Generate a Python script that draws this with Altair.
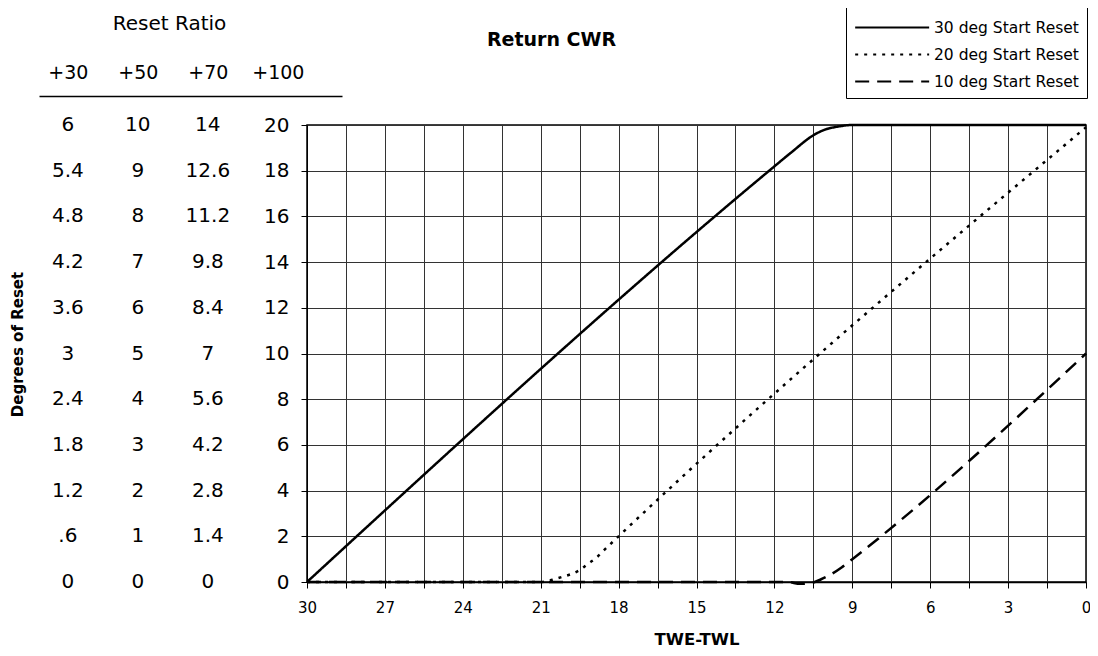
import altair as alt
import pandas as pd

FONT = "DejaVu Sans"

# ---- data ----
series_names = ["30 deg Start Reset", "20 deg Start Reset", "10 deg Start Reset"]
s30_x = [30, 12.2, 11.35, 10.5, 10.05, 9.55, 9, 8, 0]
s30_y = [0, 18, 18.8, 19.55, 19.8, 19.93, 20, 20, 20]
s20_x = [30, 21, 20.55, 20.15, 19.75, 19.5, 19.2, 18.85, 18.5, 18, 0]
s20_y = [0, 0, 0.1, 0.23, 0.38, 0.52, 0.78, 1.07, 1.46, 2.0, 19.9]
s10_x = [30, 11.5, 11, 10.6, 10.2, 9.8, 9.4, 9, 0]
s10_y = [0, 0, -0.08, -0.05, 0.12, 0.35, 0.65, 1.0, 10]

x_grid = [0, 1.5, 3, 4.5, 6, 7.5, 9, 10.5, 12, 13.5, 15, 16.5, 18, 19.5, 21,
          22.5, 24, 25.5, 27, 28.5, 30]
reset_deg = [20, 18, 16, 14, 12, 10, 8, 6, 4, 2, 0]
ratio_cols = ["+30", "+50", "+70", "+100"]
ratio_30 = ["6", "5.4", "4.8", "4.2", "3.6", "3", "2.4", "1.8", "1.2", ".6", "0"]
ratio_50 = ["10", "9", "8", "7", "6", "5", "4", "3", "2", "1", "0"]
ratio_70 = ["14", "12.6", "11.2", "9.8", "8.4", "7", "5.6", "4.2", "2.8", "1.4", "0"]

# ---- tables ----
rows = []
for name, xs, ys in zip(series_names, [s30_x, s20_x, s10_x], [s30_y, s20_y, s10_y]):
    for a, b in zip(xs, ys):
        rows.append({"series": name, "twe": a, "deg": b})
lines_df = pd.DataFrame(rows)

trows = []
for col, vals in zip(ratio_cols[:3], [ratio_30, ratio_50, ratio_70]):
    for d, v in zip(reset_deg, vals):
        trows.append({"ratio": col, "deg": d, "txt": v})
table_df = pd.DataFrame(trows)

y_enc = alt.Y(
    "deg:Q",
    scale=alt.Scale(domain=[0, 20], nice=False, zero=False),
    axis=alt.Axis(
        values=reset_deg, title="Degrees of Reset", titleFontSize=15,
        titleFontWeight="bold", titleColor="black", titleX=-282, titleY=219,
        labelFontSize=20, labelColor="black", labelPadding=12, tickSize=6,
        tickColor="black", domainColor="black", grid=True, gridColor="#333",
        gridWidth=1, gridOpacity=1,
    ),
)

lines = alt.Chart(lines_df).mark_line(strokeWidth=2.5, interpolate="monotone", color="black").encode(
    x=alt.X(
        "twe:Q",
        scale=alt.Scale(domain=[0, 30], reverse=True, nice=False, zero=False),
        axis=alt.Axis(
            values=x_grid, labelExpr="datum.value % 3 === 0 ? datum.label : ''",
            title="TWE-TWL", titleFontSize=16.5, titleFontWeight="bold",
            titleColor="black", titlePadding=16, labelFontSize=15,
            labelColor="black", labelPadding=12, tickSize=6, tickColor="black",
            domainColor="black", domainWidth=1.5, grid=True, gridColor="#333",
            gridWidth=1, gridOpacity=1, labelFlush=False, labelOverlap=False,
        ),
    ),
    y=y_enc,
    strokeDash=alt.StrokeDash(
        "series:N",
        scale=alt.Scale(domain=series_names, range=[[1, 0], [3, 6], [14, 8]]),
        legend=alt.Legend(
            orient="none", legendX=539, legendY=-119, title=None,
            symbolType="M-1,0H5", symbolSize=608, symbolStrokeWidth=2,
            symbolStrokeColor="black", labelFontSize=15.5, labelColor="black",
            strokeColor="black", fillColor="white", padding=8, rowPadding=5,
            labelOffset=53,
        ),
    ),
    order=alt.Order("twe:Q", sort="descending"),
)

table = alt.Chart(table_df).mark_text(fontSize=20, color="black", baseline="middle").encode(
    x=alt.X(
        "ratio:N",
        scale=alt.Scale(type="point", domain=ratio_cols, range=[-268, 35],
                        padding=0.664, align=0.31),
        axis=alt.Axis(
            orient="top", offset=29, title="Reset Ratio", titleFontSize=20,
            titleFontWeight="normal", titleColor="black", titleX=-138,
            titlePadding=30, labelFontSize=19, labelColor="black",
            labelPadding=14, ticks=False, domainColor="black", domainWidth=1.5,
            grid=False, labelAngle=0,
        ),
    ),
    y=y_enc,
    text="txt:N",
)

chart = (
    alt.layer(lines, table)
    .resolve_scale(x="independent")
    .resolve_axis(x="independent")
    .properties(
        width=779, height=457,
        title=alt.Title("Return CWR", fontSize=19, fontWeight="bold", anchor="middle",
                        frame="group", dx=-145, dy=44, offset=0, color="black"),
        autosize=alt.AutoSizeParams(type="none"),
        padding={"left": 299, "top": 117, "right": 4, "bottom": 66},
    )
    .configure(font=FONT, background="white")
    .configure_view(stroke="black", strokeWidth=1.5)
)

chart.save("out.html", embed_options={"renderer": "svg", "actions": False})
